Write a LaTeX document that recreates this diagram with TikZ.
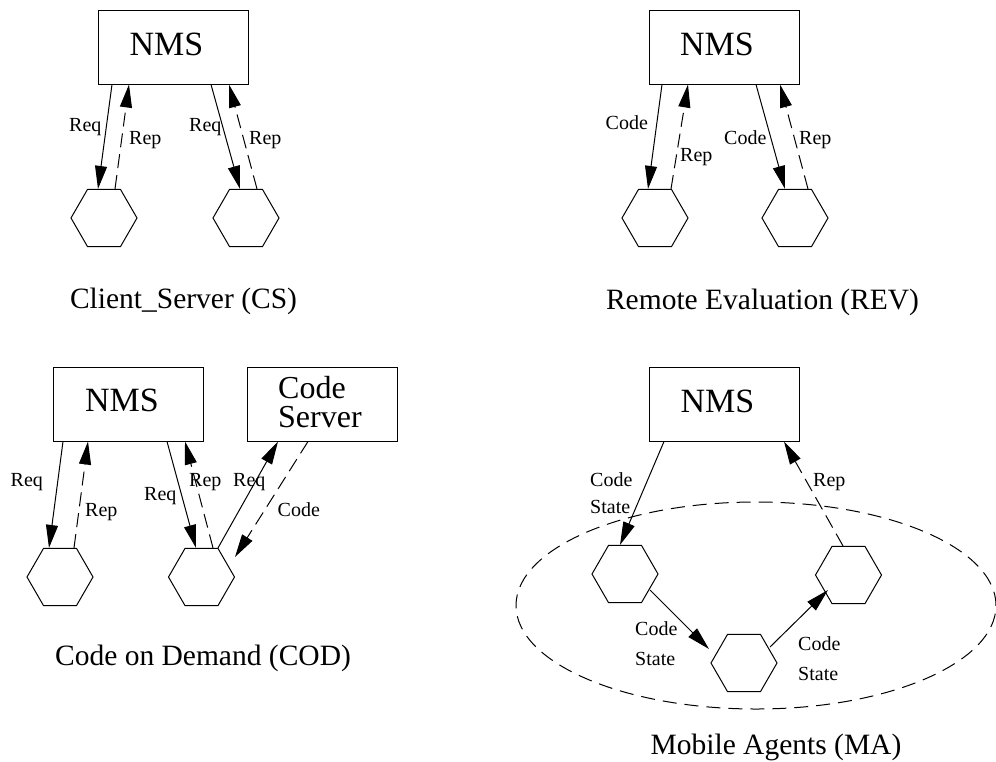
\documentclass[tikz,border=0pt]{standalone}
\usepackage{fontspec}
\setmainfont{Liberation Serif}
\usetikzlibrary{arrows.meta,shapes.geometric}
\begin{document}
\begin{tikzpicture}[x=1pt,y=-1pt,
  box/.style={draw, line width=1pt, rectangle, minimum width=150pt, minimum height=74pt, inner sep=0pt},
  hexa/.style={draw, line width=1pt, regular polygon, regular polygon sides=6, minimum size=66pt, inner sep=0pt},
  big/.style={font=\fontsize{34}{34}\selectfont, inner sep=0pt, anchor=base},
  srv/.style={font=\fontsize{32}{29}\selectfont, inner sep=0pt, anchor=base west},
  captxt/.style={font=\fontsize{29.5}{30}\selectfont, inner sep=0pt, anchor=base},
  lbl/.style={font=\fontsize{20}{20}\selectfont, inner sep=0pt, anchor=base west},
  conn/.style={line width=1pt, -{Triangle[length=23pt,width=12pt]}},
  back/.style={conn, dash pattern=on 14pt off 7pt},
  ring/.style={draw, ellipse, line width=1pt, dash pattern=on 14pt off 8pt, inner sep=0pt},
]
\useasboundingbox (0,0) rectangle (996,761);

% ---------------- Panel 1: Client_Server ----------------
\node[box] (nms1) at (173,47) {};
\node[big] (nms1t) at (166.5,55) {NMS};
\node[hexa] (h1) at (104,218) {};
\node[hexa] (h2) at (246,218) {};
\draw[conn] ([xshift=-61pt]nms1.south) -- ([xshift=-6pt]h1.north);
\draw[back] ([xshift=11pt]h1.north) -- ([xshift=-44pt]nms1.south);
\draw[conn] ([xshift=38pt]nms1.south) -- ([xshift=-6pt]h2.north);
\draw[back] ([xshift=11pt]h2.north) -- ([xshift=56pt]nms1.south);
\node[lbl] (l1a) at (69,131) {Req};
\node[lbl] (l1b) at (129,144) {Rep};
\node[lbl] (l1c) at (189,131) {Req};
\node[lbl] (l1d) at (249,144) {Rep};
\node[captxt] (cap1) at (183.5,308) {Client\_Server (CS)};

% ---------------- Panel 2: Remote Evaluation ----------------
\node[box] (nms2) at (724,47) {};
\node[big] (nms2t) at (717,55) {NMS};
\node[hexa] (h3) at (655,218) {};
\node[hexa] (h4) at (795,218) {};
\draw[conn] ([xshift=-62pt]nms2.south) -- ([xshift=-7pt]h3.north);
\draw[back] ([xshift=16pt]h3.north) -- ([xshift=-36pt]nms2.south);
\draw[conn] ([xshift=32pt]nms2.south) -- ([xshift=-10pt]h4.north);
\draw[back] ([xshift=13pt]h4.north) -- ([xshift=56pt]nms2.south);
\node[lbl] (l2a) at (605.5,129) {Code};
\node[lbl] (l2b) at (680,161.5) {Rep};
\node[lbl] (l2c) at (724,144) {Code};
\node[lbl] (l2d) at (799,144) {Rep};
\node[captxt] (cap2) at (762.5,309) {Remote Evaluation (REV)};

% ---------------- Panel 3: Code on Demand ----------------
\node[box] (nms3) at (128.5,404) {};
\node[big] (nms3t) at (122,411) {NMS};
\node[box] (cs) at (322.5,404) {};
\node[srv] (cst1) at (278,398) {Code};
\node[srv] (cst2) at (278,427) {Server};
\node[hexa] (h5) at (60,577) {};
\node[hexa] (h6) at (201.5,577) {};
\draw[conn] ([xshift=-65.5pt]nms3.south) -- ([xshift=-11pt]h5.north);
\draw[back] ([xshift=14pt]h5.north) -- ([xshift=-40.5pt]nms3.south);
\draw[conn] ([xshift=38.5pt]nms3.south) -- ([xshift=-5.5pt]h6.north);
\draw[back] ([xshift=11.5pt]h6.north) -- ([xshift=56.5pt]nms3.south);
\draw[conn] ([xshift=16.5pt]h6.north) -- ([xshift=-44.5pt]cs.south);
\draw[back] ([xshift=-14.5pt]cs.south) -- ([xshift=33.5pt,yshift=20pt]h6.center);
\node[lbl] (l3a) at (10.5,486.5) {Req};
\node[lbl] (l3b) at (85,516) {Rep};
\node[lbl] (l3c) at (144,500.5) {Req};
\node[lbl] (l3d) at (189,486.5) {Rep};
\node[lbl] (l3e) at (233,486.5) {Req};
\node[lbl] (l3f) at (277.5,516) {Code};
\node[captxt] (cap3) at (203,665) {Code on Demand (COD)};

% ---------------- Panel 4: Mobile Agents ----------------
\node[ring, minimum width=480pt, minimum height=207pt] (ma) at (756,605.5) {};
\node[box] (nms4) at (724,404) {};
\node[big] (nms4t) at (717.5,412) {NMS};
\node[hexa] (ha) at (625,574) {};
\node[hexa] (hb) at (744,663) {};
\node[hexa] (hc) at (848.5,575) {};
\draw[conn] ([xshift=-60pt]nms4.south) -- ([xshift=-5pt]ha.north);
\draw[conn] ([xshift=25pt,yshift=-16pt]ha.center) -- ([xshift=-35pt,yshift=14pt]hb.center);
\draw[conn] ([xshift=26pt,yshift=16pt]hb.center) -- ([xshift=-20.5pt,yshift=-15pt]hc.center);
\draw[back] ([xshift=-5.5pt]hc.north) -- ([xshift=60pt]nms4.south);
\node[lbl] (l4a) at (590,486) {Code};
\node[lbl] (l4b) at (590,513) {State};
\node[lbl] (l4c) at (635,635) {Code};
\node[lbl] (l4d) at (635,665) {State};
\node[lbl] (l4e) at (798,650) {Code};
\node[lbl] (l4f) at (798,680) {State};
\node[lbl] (l4g) at (813,486) {Rep};
\node[captxt] (cap4) at (776,754) {Mobile Agents (MA)};
\end{tikzpicture}
\end{document}
